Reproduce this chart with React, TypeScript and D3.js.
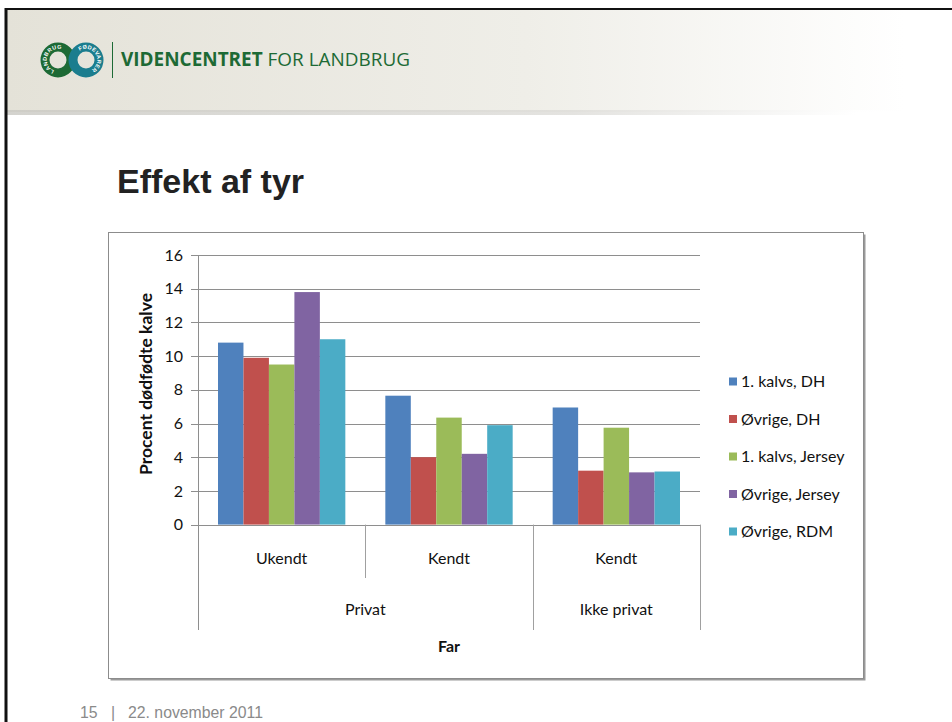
import React from "react";
import * as d3 from "d3";

// data
const categories = ["Ukendt", "Kendt", "Kendt"];
const groupLabels = ["Privat", "Ikke privat"];
const groupSpans = [2, 1]; // how many categories each outer label covers
const seriesNames = [
  "1. kalvs, DH",
  "Øvrige, DH",
  "1. kalvs, Jersey",
  "Øvrige, Jersey",
  "Øvrige, RDM",
];
const kalvsDH = [10.8, 7.65, 6.95];
const ovrigeDH = [9.9, 4.0, 3.2];
const kalvsJersey = [9.5, 6.35, 5.75];
const ovrigeJersey = [13.8, 4.2, 3.1];
const ovrigeRDM = [11.0, 5.9, 3.15];
const yTicks = [0, 2, 4, 6, 8, 10, 12, 14, 16];

const seriesValues = [kalvsDH, ovrigeDH, kalvsJersey, ovrigeJersey, ovrigeRDM];
const colors = ["#4f81bd", "#c0504d", "#9bbb59", "#8064a2", "#4bacc6"];

const W = 952;
const H = 722;
const chartFont = "Lato, 'Open Sans', sans-serif";
const slideFont = "'Liberation Sans', Arial, sans-serif";

// arc helper for the logo ring text (angles in degrees, clockwise from 3 o'clock)
function ringArc(cx: number, cy: number, r: number, a0: number, a1: number) {
  const p = d3.path();
  const rad = (a: number) => (a * Math.PI) / 180;
  p.arc(cx, cy, r, rad(a0), rad(a1), false);
  return p.toString();
}

export default function App() {
  const plot = { left: 198, right: 700, top: 255, bottom: 524.6 };

  const x0 = d3
    .scaleBand<number>()
    .domain(categories.map((_, i) => i))
    .range([plot.left, plot.right])
    .padding(0);
  const bw = x0.bandwidth();
  const x1 = d3
    .scaleBand<number>()
    .domain(seriesNames.map((_, i) => i))
    .range([20, bw - 20])
    .padding(0);
  const y = d3.scaleLinear().domain([0, 16]).range([plot.bottom, plot.top]);

  // outer group extents
  let start = 0;
  const groups = groupLabels.map((label, gi) => {
    const s = start;
    start += groupSpans[gi];
    const x0px = x0(s)!;
    const x1px = x0(start - 1)! + bw;
    return { label, x0px, x1px, first: s };
  });

  const legendY = d3
    .scalePoint<number>()
    .domain(seriesNames.map((_, i) => i))
    .range([381.5, 531.5]);

  return (
    <svg
      width={W}
      height={H}
      style={{ position: "absolute", left: 0, top: 0, display: "block" }}
    >
      <defs>
        <linearGradient id="hdr" x1="0" x2="1" y1="0" y2="0">
          <stop offset="0" stopColor="#e4e2d8" />
          <stop offset="0.55" stopColor="#efeee8" />
          <stop offset="0.95" stopColor="#ffffff" />
        </linearGradient>
        <linearGradient id="hdrShadow" x1="0" x2="1" y1="0" y2="0">
          <stop offset="0" stopColor="#c9c8c2" />
          <stop offset="0.6" stopColor="#dddcd8" />
          <stop offset="0.9" stopColor="#ffffff" />
        </linearGradient>
        <path id="ringL" d={ringArc(58, 60, 11.2, 110, 300)} />
        <path id="ringR" d={ringArc(86, 60, 11.2, 235, 430)} />
      </defs>

      <rect x={0} y={0} width={W} height={H} fill="#fff" />
      {/* header band */}
      <rect x={6} y={10} width={W - 6} height={102} fill="url(#hdr)" />
      <rect x={6} y={110} width={W - 6} height={5} fill="url(#hdrShadow)" opacity={0.8} />
      {/* slide edge */}
      <line x1={6} y1={8} x2={6} y2={H} stroke="#111" strokeWidth={3} />
      <line x1={5} y1={9} x2={W} y2={9} stroke="#111" strokeWidth={2} />

      {/* logo */}
      <circle cx={58} cy={60} r={13} fill="none" stroke="#1d6a35" strokeWidth={9} />
      <circle cx={86} cy={60} r={13} fill="none" stroke="#1b7d8e" strokeWidth={9} />
      <text fontFamily={slideFont} fontWeight="bold" fontSize={5.5} fill="#fff" letterSpacing={0.4}>
        <textPath href="#ringL">LANDBRUG</textPath>
      </text>
      <text fontFamily={slideFont} fontWeight="bold" fontSize={5.5} fill="#fff" letterSpacing={0.2}>
        <textPath href="#ringR">FØDEVARER</textPath>
      </text>
      <line x1={112.5} y1={42} x2={112.5} y2={78} stroke="#1d6a35" strokeWidth={1} />
      <text x={121} y={66} fontFamily="'Open Sans', sans-serif" fontSize={19} fill="#1d6a35" textLength={289} lengthAdjust="spacingAndGlyphs">
        <tspan fontWeight="bold">VIDENCENTRET</tspan>
        <tspan> FOR LANDBRUG</tspan>
      </text>

      {/* title */}
      <text x={117} y={193} fontFamily={slideFont} fontWeight="bold" fontSize={34} fill="#222">
        Effekt af tyr
      </text>

      {/* chart frame */}
      <rect x={110.5} y={234.5} width={755} height={446} fill="#9a9a9a" />
      <rect x={108.5} y={232.5} width={755} height={446} fill="#fff" stroke="#8c8c8c" strokeWidth={1} />

      {/* gridlines + ticks */}
      {yTicks.map((t) => (
        <g key={t}>
          <line
            x1={191}
            x2={plot.right}
            y1={Math.round(y(t)) + 0.5}
            y2={Math.round(y(t)) + 0.5}
            stroke="#8e8e8e"
            strokeWidth={1}
          />
          <text
            x={183}
            y={y(t)}
            dy="0.35em"
            textAnchor="end"
            fontFamily={chartFont}
            fontSize={16}
            fill="#111"
          >
            {t}
          </text>
        </g>
      ))}

      {/* bars */}
      {categories.map((_, ci) => (
        <g key={ci} transform={`translate(${x0(ci)},0)`}>
          {seriesNames.map((_, si) => (
            <rect
              key={si}
              x={x1(si)}
              y={y(seriesValues[si][ci])}
              width={x1.bandwidth()}
              height={y(0) - y(seriesValues[si][ci])}
              fill={colors[si]}
            />
          ))}
        </g>
      ))}

      {/* axes */}
      <line x1={plot.left + 0.5} x2={plot.left + 0.5} y1={plot.top} y2={630} stroke="#8e8e8e" />
      <line x1={plot.left} x2={plot.right} y1={Math.round(y(0)) + 0.5} y2={Math.round(y(0)) + 0.5} stroke="#8e8e8e" />
      {/* category dividers: short between categories, long between outer groups */}
      {categories.map((_, ci) => {
        if (ci === 0) return null;
        const isGroupEdge = groups.some((g) => g.first === ci);
        const xx = Math.round(x0(ci)!) + 0.5;
        return (
          <line key={ci} x1={xx} x2={xx} y1={plot.bottom} y2={isGroupEdge ? 630 : 578} stroke="#a0a0a0" />
        );
      })}
      <line x1={plot.right + 0.5} x2={plot.right + 0.5} y1={plot.bottom} y2={630} stroke="#a0a0a0" />

      {/* category labels */}
      {categories.map((c, ci) => (
        <text
          key={ci}
          x={x0(ci)! + bw / 2}
          y={558}
          dy="0.35em"
          textAnchor="middle"
          fontFamily={chartFont}
          fontSize={16}
          fill="#111"
        >
          {c}
        </text>
      ))}
      {groups.map((g) => (
        <text
          key={g.label}
          x={(g.x0px + g.x1px) / 2}
          y={609}
          dy="0.35em"
          textAnchor="middle"
          fontFamily={chartFont}
          fontSize={16}
          fill="#111"
        >
          {g.label}
        </text>
      ))}
      <text
        x={(plot.left + plot.right) / 2}
        y={646}
        dy="0.35em"
        textAnchor="middle"
        fontFamily={chartFont}
        fontWeight="bold"
        fontSize={16}
        fill="#111"
      >
        Far
      </text>
      <text
        transform={`translate(146,384) rotate(-90)`}
        dy="0.35em"
        textAnchor="middle"
        fontFamily={chartFont}
        fontWeight="bold"
        fontSize={17.5}
        fill="#111"
      >
        Procent dødfødte kalve
      </text>

      {/* legend */}
      {seriesNames.map((s, si) => (
        <g key={s} transform={`translate(0,${legendY(si)})`}>
          <rect x={729} y={-4} width={8} height={8} fill={colors[si]} />
          <text x={741} y={0} dy="0.35em" fontFamily={chartFont} fontSize={16} fill="#111">
            {s}
          </text>
        </g>
      ))}

      {/* footer */}
      <text x={80} y={718} fontFamily={slideFont} fontSize={15.8} fill="#8a8a8a">
        15
      </text>
      <text x={111} y={718} fontFamily={slideFont} fontSize={15.8} fill="#8a8a8a">
        |
      </text>
      <text x={128} y={718} fontFamily={slideFont} fontSize={15.8} fill="#8a8a8a">
        22. november 2011
      </text>
    </svg>
  );
}
